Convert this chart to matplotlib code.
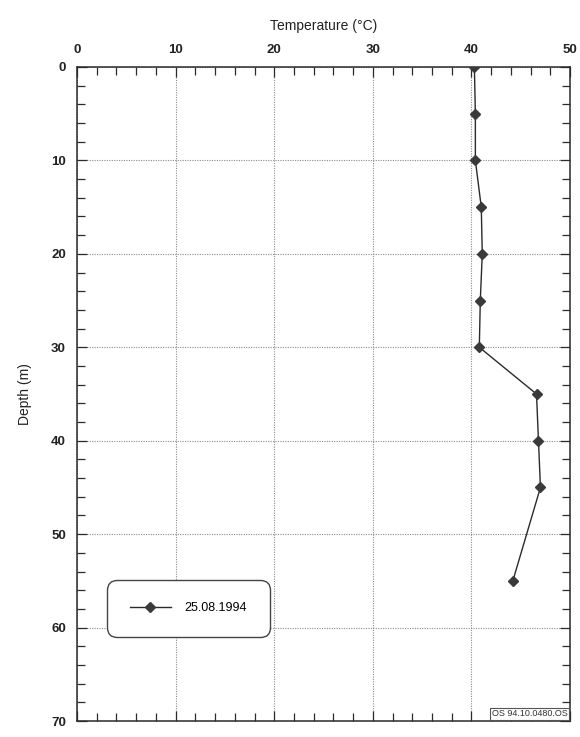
import matplotlib
matplotlib.use("Agg")
import matplotlib.pyplot as plt
from matplotlib.ticker import MultipleLocator

plt.rcParams['font.family'] = ['Liberation Sans', 'DejaVu Sans']

# Temperature profile in the borehole
depth_m = [0, 5, 10, 15, 20, 25, 30, 35, 40, 45, 55]
temperature_c = [40.3, 40.4, 40.4, 41.0, 41.1, 40.9, 40.8, 46.6, 46.8, 47.0, 44.2]
series_label = "25.08.1994"
x_ticks = [0, 10, 20, 30, 40, 50]
y_ticks = [0, 10, 20, 30, 40, 50, 60, 70]

fig = plt.figure(figsize=(5.8, 7.37), dpi=100)
ax = fig.add_axes([0.1328, 0.0217, 0.85, 0.8874])

ink = '#2b2b2b'
ax.plot(temperature_c, depth_m, color=ink, lw=1.0, marker='D', ms=5,
        markerfacecolor='#3a3a3a', markeredgecolor='#3a3a3a', label=series_label,
        zorder=3)

ax.set_xlim(0, 50)
ax.set_ylim(70, 0)
ax.set_xticks(x_ticks)
ax.set_yticks(y_ticks)
ax.xaxis.set_minor_locator(MultipleLocator(2))
ax.yaxis.set_minor_locator(MultipleLocator(2))

ax.xaxis.tick_top()
ax.xaxis.set_label_position('top')
ax.tick_params(which='both', direction='in', top=True, bottom=True,
               left=True, right=True, color=ink)
ax.tick_params(which='major', length=7, width=0.9, labelsize=9.5, pad=8)
ax.tick_params(which='minor', length=6, width=0.9)
ax.tick_params(axis='x', which='major', labelbottom=False, labeltop=True)
for lbl in ax.get_xticklabels() + ax.get_yticklabels():
    lbl.set_fontweight('bold')
    lbl.set_color('#222222')

ax.grid(True, which='major', color='#8a8a8a', lw=0.8, ls=(0, (1, 1.2)))
for sp in ax.spines.values():
    sp.set_color(ink)
    sp.set_linewidth(1.1)

ax.set_xlabel('Temperature (°C)', fontsize=10, labelpad=10, color='#222222')
ax.set_ylabel('Depth (m)', fontsize=10, labelpad=14, color='#222222')

leg = ax.legend(loc='upper left', bbox_to_anchor=(0.061, 0.216), frameon=True,
                fancybox=True, fontsize=9, handlelength=3.3, borderpad=1.8,
                handletextpad=1.1, borderaxespad=0)
frame = leg.get_frame()
frame.set_edgecolor('#444444')
frame.set_linewidth(1.0)
frame.set_boxstyle('round,pad=0.0,rounding_size=0.8')
frame.set_alpha(1)

ax.text(0.995, 0.004, 'OS 94.10.0480.OS', transform=ax.transAxes, ha='right',
        va='bottom', fontsize=6.5, color='#333333',
        bbox=dict(boxstyle='square,pad=0.15', fc='white', ec='#555555', lw=0.8))

fig.savefig('out.png', dpi=100)
